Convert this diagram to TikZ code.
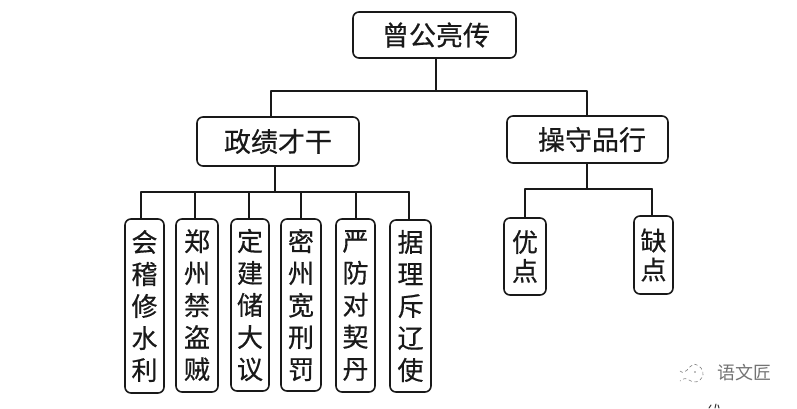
\documentclass[tikz,border=0pt]{standalone}
\usepackage{fontspec}
\setmainfont{Noto Sans CJK SC}[RawFeature={embolden=0.5}]
\newfontfamily\nhat{Noto Sans CJK SC}
\tikzset{
	hop/.style={draw=black!90, line width=1.6pt, rounded corners=6pt, inner sep=0pt, align=center, text=black!90},
	hopngang/.style={hop, font=\fontsize{27}{32}\selectfont},
	hopdoc/.style={hop, font=\fontsize{26}{32}\selectfont},
	hopngan/.style={hop, font=\fontsize{26}{29}\selectfont},
	noi/.style={draw=black!90, line width=1.6pt}
}
\begin{document}
\begin{tikzpicture}[x=1pt, y=-1pt, line join=round, line cap=round]
		\useasboundingbox (0,0) rectangle (797,408);
		\node[hopngang, minimum width=163pt, minimum height=46pt] (goc) at (434.5,35) {\hspace*{3pt}曾公亮传};
		\node[hopngang, minimum width=162pt, minimum height=49pt] (chinhtich) at (278,141.5) {政绩才干};
		\node[hopngang, minimum width=161pt, minimum height=47pt] (phamhanh) at (587.5,139.5) {\hspace*{9pt}操守品行};
		\node[hopdoc, minimum width=39pt, minimum height=174pt] (a) at (144.5,306) {会\\稽\\修\\水\\利};
		\node[hopdoc, minimum width=42pt, minimum height=173pt] (b) at (197,305.5) {郑\\州\\禁\\盗\\贼};
		\node[hopdoc, minimum width=38pt, minimum height=172pt] (c) at (250,305) {定\\建\\储\\大\\议};
		\node[hopdoc, minimum width=40pt, minimum height=172pt] (d) at (301,305) {密\\州\\宽\\刑\\罚};
		\node[hopdoc, minimum width=39pt, minimum height=173pt] (e) at (355.5,305.5) {严\\防\\对\\契\\丹};
		\node[hopdoc, minimum width=41pt, minimum height=172pt] (f) at (410.5,306) {据\\理\\斥\\辽\\使};
		\node[hopngan, minimum width=42pt, minimum height=77pt] (u) at (525,256.5) {优\\点};
		\node[hopngan, minimum width=39pt, minimum height=78pt] (k) at (653.5,255) {缺\\点};
		\coordinate (T) at (436,91);
		\coordinate (TL) at (271,91);
		\coordinate (TR) at (587,91);
		\coordinate (L) at (275,192);
		\coordinate (L1) at (141,192);
		\coordinate (L2) at (195,192);
		\coordinate (L3) at (249,192);
		\coordinate (L4) at (301,192);
		\coordinate (L5) at (356,192);
		\coordinate (L6) at (409,192);
		\coordinate (R) at (587,189);
		\coordinate (R1) at (525,189);
		\coordinate (R2) at (652,189);
		\draw[noi] (T |- goc.south)--(T) (TL |- chinhtich.north)--(TL)--(TR)--(TR |- phamhanh.north);
		\draw[noi] (L |- chinhtich.south)--(L) (L1)--(L6);
		\draw[noi] (L1)--(L1 |- a.north) (L2)--(L2 |- b.north) (L3)--(L3 |- c.north);
		\draw[noi] (L4)--(L4 |- d.north) (L5)--(L5 |- e.north) (L6)--(L6 |- f.north);
		\draw[noi] (R |- phamhanh.south)--(R) (R1)--(R2);
		\draw[noi] (R1)--(R1 |- u.north) (R2)--(R2 |- k.north);
		\node[text=black!55, font=\nhat\fontsize{18}{18}\selectfont, inner sep=0pt] (logo) at (744,373) {语文匠};
		\draw[black!50, line width=0.6pt, dashed] (680,371) .. controls (686,376) and (688,366) .. (694,364) .. controls (700,365) and (704,370) .. (703,376) .. controls (700,382) and (694,384) .. (689,380) .. controls (686,378) and (684,378) .. (680,381);
		\fill[black!50] (695,372) circle(0.9pt);
		\draw[black!80, line width=1pt] (709,408)--(711,405) (715,408)--(716,404) (718,405)--(719,408);
\end{tikzpicture}
\end{document}
